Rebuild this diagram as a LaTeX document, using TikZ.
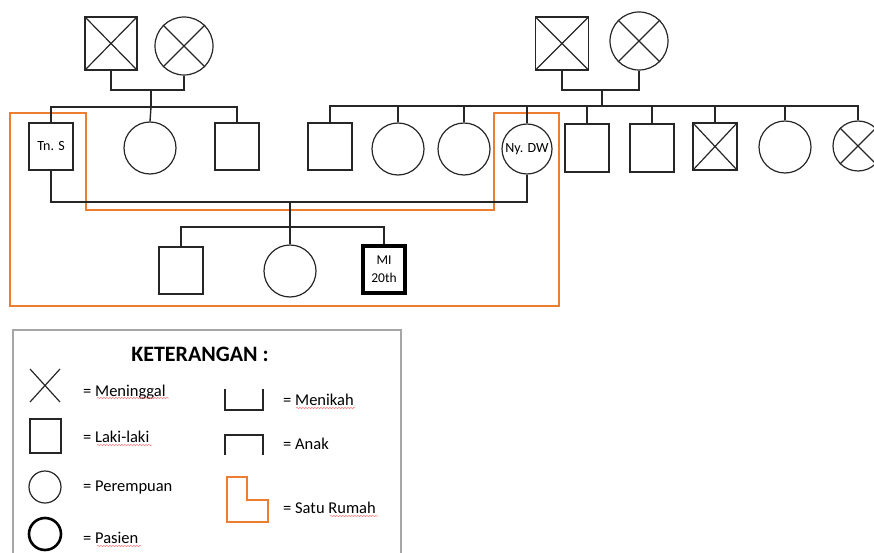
\documentclass[tikz,border=0pt]{standalone}
\usepackage{fontspec}
\setmainfont{Carlito}
\usetikzlibrary{decorations.pathmorphing}
\definecolor{house}{HTML}{ED7D31}
\definecolor{ink}{HTML}{262626}
\begin{document}
\begin{tikzpicture}[x=1pt,y=-1pt,
  ln/.style={line width=1.4pt, draw=ink},
  male/.style={draw=ink, line width=1.4pt, rectangle, minimum width=44pt, minimum height=47pt, inner sep=0pt, font=\fontsize{14}{16}\selectfont},
  female/.style={draw=ink, line width=1.2pt, circle, inner sep=0pt, minimum size=52pt, font=\fontsize{14}{16}\selectfont},
  dead/.style={path picture={\draw[ink, line width=1.2pt] (path picture bounding box.north west) -- (path picture bounding box.south east) (path picture bounding box.south west) -- (path picture bounding box.north east);}},
  deadc/.style={append after command={\pgfextra{\draw[ink, line width=1.2pt] (\tikzlastnode.north west) -- (\tikzlastnode.south east) (\tikzlastnode.south west) -- (\tikzlastnode.north east);}}},
  houseline/.style={draw=house, line width=1.4pt},
  legtext/.style={anchor=base west, inner sep=0pt, font=\fontsize{16.5}{18}\selectfont},
  spell/.style={draw=red!55, line width=0.5pt, decorate, decoration={snake, amplitude=0.6pt, segment length=3pt}}
]
\useasboundingbox (0,0) rectangle (874,553);
\clip (0,0) rectangle (874,553);

% ---------- household outline ----------
\draw[houseline] (10,113) -- (86,113) -- (86,210) -- (494,210) -- (494,113) -- (559,113) -- (559,306) -- (10,306) -- cycle;

% ---------- left grandparents ----------
\node[male, minimum width=52pt, minimum height=53pt, dead] (gf1) at (111,43.5) {};
\node[female, minimum size=58pt, deadc] (gm1) at (184,46) {};
\coordinate (m1) at (151,90);
\coordinate (sib1) at (151,107);
\draw[ln] (gf1.south) |- (m1) -| (gm1.south);
\draw[ln] (m1) -- (sib1);

\node[male] (tns) at (51,146.5) {Tn. S};
\node[female] (c2) at (150,148) {};
\node[male] (s3) at (237,146.5) {};
\draw[ln] (tns.north) |- (sib1) -| (s3.north);
\draw[ln] (sib1) -- (c2.north);

% ---------- right grandparents ----------
\node[male, minimum width=53pt, minimum height=53pt, dead] (gf2) at (562,43.5) {};
\node[female, minimum size=58pt, deadc] (gm2) at (639,41) {};
\coordinate (m2) at (602,90);
\coordinate (sib2) at (602,106);
\draw[ln] (gf2.south) |- (m2) -| (gm2.south);
\draw[ln] (m2) -- (sib2);

\node[male] (r1) at (330,146.5) {};
\node[female] (r2) at (398,149) {};
\node[female] (r3) at (464,149) {};
\node[female, minimum size=50pt] (dw) at (527,149) {Ny. DW};
\node[male, minimum height=48pt] (r5) at (587,148) {};
\node[male, minimum height=48pt] (r6) at (652,148) {};
\node[male, dead] (r7) at (715,146.5) {};
\node[female] (r8) at (785,147) {};
\node[female, minimum size=50pt, deadc] (r9) at (858,146) {};
\draw[ln] (r1.north) |- (sib2) -| (r9.north);
\foreach \n in {r2,r3,dw,r5,r6,r7,r8} \draw[ln] (\n.north) -- (\n.north |- sib2);

% ---------- couple and children ----------
\coordinate (cp) at (290,202);
\coordinate (kid) at (290,227);
\draw[ln] (tns.south) |- (cp) -| (dw.south);
\node[male] (k1) at (181,270.5) {};
\node[female] (k2) at (290,271) {};
\node[male, line width=4.5pt, draw=black, minimum width=42pt, minimum height=47pt, align=center, font=\fontsize{13.5}{18}\selectfont] (k3) at (384,269.5) {MI\\20th};
\draw[ln] (cp) -- (k2.north);
\draw[ln] (k1.north) |- (kid) -| (k3.north);

% ---------- legend ----------
\draw[draw=black!35, line width=1.5pt] (13,330) rectangle (401,570);
\node[anchor=base, inner sep=0pt, font=\bfseries\fontsize{22}{24}\selectfont] (title) at (200,361) {KETERANGAN :};

\draw[ln, line width=1.2pt] (30,369) -- (60,402) (30,402) -- (60,369);
\node[legtext] (tmen) at (83,396) {= Meninggal};
\draw[ln, line width=1.4pt] (30,419) rectangle (61,453);
\node[legtext] (tlak) at (83,442) {= Laki-laki};
\draw[ln, line width=1.2pt] (45,487) circle (16);
\node[legtext] (tper) at (83,491) {= Perempuan};
\draw[draw=black, line width=2.6pt] (45,534) circle (16);
\node[legtext] (tpas) at (83,543) {= Pasien};

\draw[ln, line width=1.4pt] (225,389) -- (225,410) -- (263,410) -- (263,389);
\node[legtext] (tnik) at (283,405) {= Menikah};
\draw[ln, line width=1.4pt] (225,455) -- (225,435) -- (263,435) -- (263,455);
\node[legtext] (tana) at (283,449) {= Anak};
\draw[houseline, line width=1.6pt] (227,477) -- (247,477) -- (247,500) -- (268,500) -- (268,522) -- (227,522) -- cycle;
\node[legtext] (trum) at (283,513) {= Satu Rumah};

% spell-check underlines
\draw[spell] (97,398) -- (169,398);
\draw[spell] (97,445) -- (152,445);
\draw[spell] (296,408) -- (355,408);
\draw[spell] (330,516) -- (378,516);
\draw[spell] (97,546) -- (141,546);
\end{tikzpicture}
\end{document}
